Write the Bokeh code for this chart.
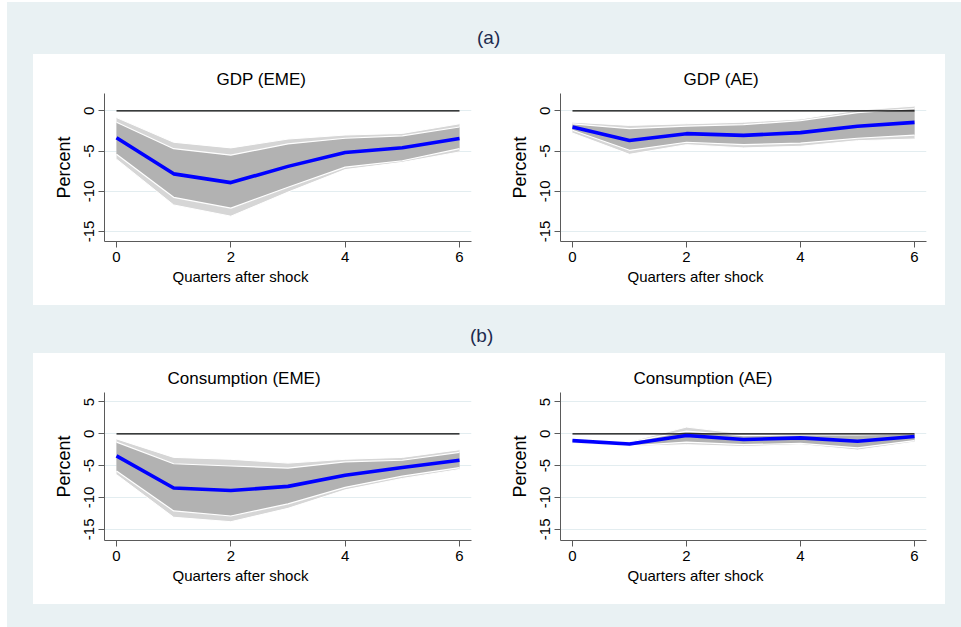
from bokeh.plotting import figure
from bokeh.layouts import column, row
from bokeh.models import Div, Spacer, Title, FixedTicker, Range1d
from bokeh.embed import file_html
from bokeh.resources import INLINE

FONT = "Liberation Sans"

# Impulse responses (percent) over quarters after the shock
quarters = [0, 1, 2, 3, 4, 5, 6]

gdp_eme = [-3.33, -7.83, -8.92, -6.9, -5.17, -4.58, -3.42]
gdp_eme_in_hi = [-1.4, -4.7, -5.5, -4.1, -3.4, -3.1, -2.0]
gdp_eme_in_lo = [-5.4, -10.75, -12.1, -9.5, -7.0, -6.2, -4.7]
gdp_eme_out_hi = [-0.83, -3.9, -4.6, -3.5, -3.0, -2.8, -1.6]
gdp_eme_out_lo = [-6.0, -11.7, -13.1, -10.1, -7.3, -6.4, -5.1]

gdp_ae = [-2.0, -3.67, -2.83, -3.04, -2.7, -1.9, -1.42]
gdp_ae_in_hi = [-1.6, -2.2, -1.9, -1.7, -1.2, -0.2, 0.3]
gdp_ae_in_lo = [-2.4, -4.9, -3.9, -4.2, -4.0, -3.4, -3.0]
gdp_ae_out_hi = [-1.4, -1.8, -1.6, -1.4, -1.0, 0.1, 0.6]
gdp_ae_out_lo = [-2.75, -5.4, -4.2, -4.6, -4.4, -3.7, -3.5]

cons_eme = [-3.46, -8.5, -8.9, -8.25, -6.5, -5.3, -4.15]
cons_eme_in_hi = [-1.3, -4.7, -5.05, -5.4, -4.4, -4.15, -2.9]
cons_eme_in_lo = [-5.85, -12.1, -12.9, -11.0, -8.4, -6.65, -5.3]
cons_eme_out_hi = [-0.8, -3.7, -4.0, -4.6, -4.0, -3.7, -2.5]
cons_eme_out_lo = [-6.4, -13.1, -13.8, -11.7, -8.8, -7.0, -5.6]

cons_ae = [-1.06, -1.6, -0.27, -0.9, -0.64, -1.17, -0.43]
cons_ae_in_hi = [-0.85, -1.3, 0.43, -0.27, -0.16, -0.16, 0.0]
cons_ae_in_lo = [-1.3, -1.9, -1.3, -1.7, -1.5, -2.2, -1.06]
cons_ae_out_hi = [-0.8, -1.2, 1.06, 0.0, 0.1, 0.1, 0.1]
cons_ae_out_lo = [-1.5, -2.0, -1.7, -2.0, -1.7, -2.55, -1.3]

x_ticks = [0, 2, 4, 6]
gdp_y_ticks = [0, -5, -10, -15]
cons_y_ticks = [5, 0, -5, -10, -15]

BG = "#e9f1f3"
AXIS = "#5a5a5a"


def panel(title, title_offset, xlabel_offset, est, in_lo, in_hi, out_lo, out_hi,
          y_start, y_end, y_ticks, right_border):
    p = figure(width=456, height=251, output_backend="svg", toolbar_location=None,
               x_range=Range1d(-0.21, 6.21), y_range=Range1d(y_start, y_end),
               min_border_left=71, min_border_right=right_border,
               min_border_top=39, min_border_bottom=64,
               background_fill_color="white", border_fill_color="white",
               outline_line_color=None)

    p.title.text = title
    p.title.align = "left"
    p.title.offset = title_offset
    p.title.text_font = FONT
    p.title.text_font_size = "17px"
    p.title.text_font_style = "normal"
    p.title.text_color = "black"

    # confidence bands
    p.varea(x=quarters, y1=out_lo, y2=out_hi, fill_color="#d6d6d6")
    p.line(quarters, out_hi, line_color="white", line_width=1)
    p.line(quarters, out_lo, line_color="white", line_width=1)
    p.varea(x=quarters, y1=in_lo, y2=in_hi, fill_color="#b2b2b2")
    p.line(quarters, in_hi, line_color="white", line_width=1.2)
    p.line(quarters, in_lo, line_color="white", line_width=1.2)

    # zero reference and point estimate
    p.line(quarters, [0] * len(quarters), line_color="black", line_width=1.3)
    p.line(quarters, est, line_color="#0000ff", line_width=3.6)

    xa = p.xaxis[0]
    xa.ticker = FixedTicker(ticks=x_ticks)
    xa.minor_tick_line_color = None
    xa.major_tick_in = 0
    xa.major_tick_out = 6
    xa.axis_line_color = AXIS
    xa.major_tick_line_color = AXIS
    xa.major_label_text_font = FONT
    xa.major_label_text_font_size = "15px"
    xa.major_label_text_color = "black"
    xa.major_label_standoff = 4

    p.add_layout(Title(text="Quarters after shock", align="left", offset=xlabel_offset,
                       text_font=FONT, text_font_size="15px", text_font_style="normal",
                       text_color="black", standoff=2), "below")

    ya = p.yaxis[0]
    ya.ticker = FixedTicker(ticks=y_ticks)
    # plain hyphen for negative tick labels
    ya.major_label_overrides = {t: str(t) for t in y_ticks}
    ya.minor_tick_line_color = None
    ya.major_tick_in = 0
    ya.major_tick_out = 6
    ya.axis_line_color = AXIS
    ya.major_tick_line_color = AXIS
    ya.major_label_orientation = "vertical"
    ya.major_label_text_font = FONT
    ya.major_label_text_font_size = "15px"
    ya.major_label_text_color = "black"
    ya.major_label_standoff = 4
    ya.axis_label = "Percent"
    ya.axis_label_text_font = FONT
    ya.axis_label_text_font_size = "18px"
    ya.axis_label_text_font_style = "normal"
    ya.axis_label_text_color = "black"
    ya.axis_label_standoff = 8

    p.xgrid.grid_line_color = None
    p.ygrid.grid_line_color = "#e3edf0"
    p.ygrid.grid_line_width = 1
    return p


p1 = panel("GDP (EME)", 112, 68, gdp_eme, gdp_eme_in_lo, gdp_eme_in_hi,
           gdp_eme_out_lo, gdp_eme_out_hi, -16.25, 2.17, gdp_y_ticks, 18)
p2 = panel("GDP (AE)", 123, 67, gdp_ae, gdp_ae_in_lo, gdp_ae_in_hi,
           gdp_ae_out_lo, gdp_ae_out_hi, -16.25, 2.17, gdp_y_ticks, 19)
p3 = panel("Consumption (EME)", 63, 68, cons_eme, cons_eme_in_lo, cons_eme_in_hi,
           cons_eme_out_lo, cons_eme_out_hi, -16.75, 6.49, cons_y_ticks, 18)
p4 = panel("Consumption (AE)", 73, 67, cons_ae, cons_ae_in_lo, cons_ae_in_hi,
           cons_ae_out_lo, cons_ae_out_hi, -16.75, 6.49, cons_y_ticks, 19)


def heading(label, pad_left, pad_top, height):
    html = ('<div style="padding-left:%dpx;padding-top:%dpx;font-family:\'Liberation Sans\';'
            'font-size:19px;line-height:1.15;color:#1d2b4f">%s</div>' % (pad_left, pad_top, label))
    return Div(text=html, width=954, height=height, margin=0)


def white_box(left, right):
    return row(left, right, styles={"background-color": "white"})


layout = column(
    heading("(a)", 470, 25, 52),
    row(Spacer(width=26, height=251), white_box(p1, p2), Spacer(width=16, height=251)),
    heading("(b)", 463, 20, 48),
    row(Spacer(width=26, height=251), white_box(p3, p4), Spacer(width=16, height=251)),
    Spacer(width=954, height=23),
    styles={"background-color": BG},
    margin=(2, 0, 0, 7),
)

open("out.html", "w").write(file_html(layout, INLINE))
